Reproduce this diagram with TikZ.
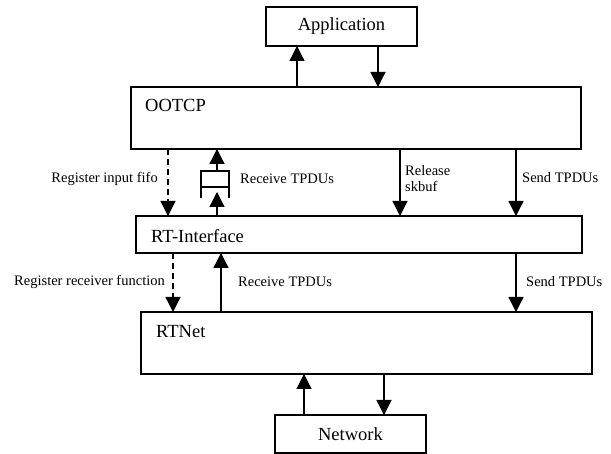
\documentclass[tikz,border=0pt]{standalone}
\usepackage{fontspec}
\setmainfont{Liberation Serif}
\usetikzlibrary{arrows.meta}
\tikzset{
  box/.style={draw, line width=1.6pt, inner sep=0pt, outer sep=0pt},
  big/.style={inner sep=0pt, font=\fontsize{18.5}{20}\selectfont},
  small/.style={inner sep=0pt, align=left, font=\fontsize{14.5}{16.5}\selectfont},
  arr/.style={line width=1.3pt, -{Triangle[width=15pt,length=15pt]}},
  darr/.style={arr, dash pattern=on 6pt off 4pt},
}
\begin{document}
\begin{tikzpicture}[x=1pt, y=-1pt]
\useasboundingbox (0,0) rectangle (611,454);

% layers of the stack
\node[box, minimum width=151pt, minimum height=39pt] (app) at (341.5,26.5) {};
\node[big] at (app.center) {Application};
\node[box, minimum width=450pt, minimum height=62pt] (ootcp) at (356,118) {};
\node[big, anchor=west] (ootcptxt) at (145,105) {OOTCP};
\node[box, minimum width=446pt, minimum height=37pt] (rti) at (359,234.5) {};
\node[big, anchor=west] (rtitxt) at (151,236) {RT-Interface};
\node[box, minimum width=451pt, minimum height=62pt] (rtnet) at (366.5,343) {};
\node[big, anchor=west] (rtnettxt) at (156,332) {RTNet};
\node[box, minimum width=151pt, minimum height=38pt] (net) at (350.5,434) {};
\node[big] at (net.center) {Network};

% Application <-> OOTCP
\draw[arr] (ootcp.north -| 297,0) -- (app.south -| 297,0);
\draw[arr] (app.south -| 378,0) -- (ootcp.north -| 378,0);

% OOTCP <-> RT-Interface
\draw[darr] (ootcp.south -| 168,0) -- (rti.north -| 168,0);
\node[small, anchor=east] (l1) at (158,179) {Register input fifo};

% input fifo symbol on the receive path
\coordinate (fifotop) at (217,171);
\coordinate (fifobot) at (217,192);
\draw[line width=1.3pt] (201,198) -- (201,171) -- (229,171) -- (229,198)
      (201,187) -- (229,187);
\draw[arr] (rti.north -| fifobot) -- (fifobot);
\draw[arr] (fifotop) -- (ootcp.south -| fifotop);
\node[small, anchor=west] (l2) at (240,179) {Receive TPDUs};

\draw[arr] (ootcp.south -| 400,0) -- (rti.north -| 400,0);
\node[small, anchor=west, text depth=0pt] (l3) at (405,170) {Release};
\node[small, anchor=west] (l3b) at (405,186) {skbuf};

\draw[arr] (ootcp.south -| 516,0) -- (rti.north -| 516,0);
\node[small, anchor=west] (l4) at (522,178) {Send TPDUs};

% RT-Interface <-> RTNet
\draw[darr] (rti.south -| 173,0) -- (rtnet.north -| 173,0);
\node[small, anchor=east] (l5) at (165,282) {Register receiver function};
\draw[arr] (rtnet.north -| 221,0) -- (rti.south -| 221,0);
\node[small, anchor=west] (l6) at (238,282) {Receive TPDUs};
\draw[arr] (rti.south -| 516,0) -- (rtnet.north -| 516,0);
\node[small, anchor=west] (l7) at (526,282) {Send TPDUs};

% RTNet <-> Network
\draw[arr] (net.north -| 304,0) -- (rtnet.south -| 304,0);
\draw[arr] (rtnet.south -| 384,0) -- (net.north -| 384,0);
\end{tikzpicture}
\end{document}
